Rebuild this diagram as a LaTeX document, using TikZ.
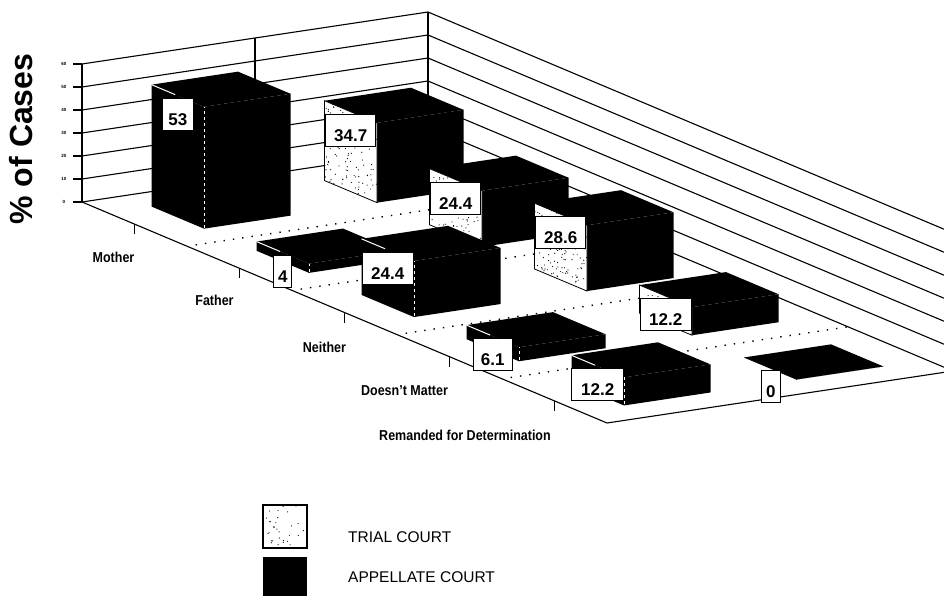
\documentclass[tikz,border=0pt]{standalone}
\usepackage{fontspec}
\setmainfont{Liberation Sans}
\usepackage{graphicx}
\usetikzlibrary{calc}
\begin{document}
\begin{tikzpicture}[x=1pt,y=1pt,
  grid/.style={line width=1.1pt,black},
  floordots/.style={line width=1.4pt,dash pattern=on 1.4pt off 8pt,black},
  vlabel/.style={draw=black,line width=1pt,fill=white,font=\fontsize{17}{17}\selectfont\bfseries,
    minimum height=32pt,inner xsep=2pt,inner ysep=3pt,text height=24pt,text depth=2pt},
  catlab/.style={font=\fontsize{12.5}{13}\selectfont\bfseries,inner sep=0pt},
  ticklab/.style={font=\fontsize{4.5}{5}\selectfont\bfseries,inner sep=0pt},
  legtext/.style={font=\fontsize{15.5}{16}\selectfont,anchor=west,inner sep=0pt}]
\useasboundingbox (0,0) rectangle (944,-595);
\clip (0,0) rectangle (944,-595);
\fill[white] (0,0) rectangle (944,-595);
\pgfmathsetseed{7}
% y axis title
\node[rotate=90,font=\fontsize{32}{32}\selectfont\bfseries,inner sep=0pt] (ytitle) at (21.5,-139) {\% of Cases};
% y tick labels and tick marks
\foreach \L in {0,10,...,60} {
  \node[ticklab] (tl\L) at (64,{-202+2.3*\L}) {\L};
  \draw[grid] (73,{-202+2.3*\L}) -- (82,{-202+2.3*\L});
}
\begin{scope}[shift={(82,-202)},x={(105pt,-44.2pt)},y={(0pt,2.3pt)},z={(173pt,26pt)}]
  % left wall (c=0) gridlines and verticals, back wall gridlines
  \foreach \L in {0,10,...,60} {
    \draw[grid] (0,\L,0) -- (0,\L,2) -- (5,\L,2);
  }
  \foreach \s in {0,1,2} { \draw[grid] (0,0,\s) -- (0,60,\s); }
  % floor
  \draw[grid] (0,0,0) -- (5,0,0) -- (5,0,2);
  \foreach \k in {1,2,3,4} { \draw[floordots] (\k,0,0.05) -- (\k,0,2); }
  \foreach \k in {0,1,2,3,4} { \draw[grid] (\k+0.5,0,0) -- ++(0pt,-10pt); }
  % bars: category / series / value
  \foreach \k/\j/\v in {0/1/34.7,0/0/53,1/1/24.4,1/0/4,2/1/28.6,2/0/24.4,3/1/12.2,3/0/6.1,4/1/0,4/0/12.2} {
    \pgfmathsetmacro\ca{\k+0.25}
    \pgfmathsetmacro\cb{\k+0.75}
    \pgfmathsetmacro\sa{\j+0.25}
    \pgfmathsetmacro\sb{\j+0.75}
    \fill[black] (\cb,0,\sa) -- (\cb,0,\sb) -- (\cb,\v,\sb) -- (\cb,\v,\sa) -- cycle;
    \fill[black] (\ca,\v,\sa) -- (\cb,\v,\sa) -- (\cb,\v,\sb) -- (\ca,\v,\sb) -- cycle;
    \ifnum\j=1
      \fill[white] (\ca,0,\sa) -- (\cb,0,\sa) -- (\cb,\v,\sa) -- (\ca,\v,\sa) -- cycle;
      \pgfmathtruncatemacro\nd{\v*3.5+1}
      \begin{scope}
        \clip (\ca,0,\sa) -- (\cb,0,\sa) -- (\cb,\v,\sa) -- (\ca,\v,\sa) -- cycle;
        \foreach \i in {1,...,\nd} {
          \pgfmathsetmacro\rx{\ca+0.5*rnd}
          \pgfmathsetmacro\ry{\v*rnd}
          \fill[black] (\rx,\ry,\sa) circle (0.6pt);
        }
      \end{scope}
      \draw[black,line width=0.8pt] (\ca,0,\sa) -- (\cb,0,\sa) -- (\cb,\v,\sa) -- (\ca,\v,\sa) -- cycle;
    \else
      \fill[black] (\ca,0,\sa) -- (\cb,0,\sa) -- (\cb,\v,\sa) -- (\ca,\v,\sa) -- cycle;
      \draw[white,line width=1pt] (\ca,\v,\sa) -- ($(\ca,\v,\sa)!0.45!(\cb,\v,\sa)$);
      \draw[white,line width=0.7pt,dash pattern=on 3pt off 3pt] (\cb,0.5,\sa) -- (\cb,\v,\sa);
    \fi
  }
  % value labels
  \foreach \k/\j/\v/\w [count=\n] in {0/1/34.7/50,0/0/53/31,1/1/24.4/50,1/0/4/18,2/1/28.6/50,2/0/24.4/51,3/1/12.2/51,3/0/6.1/39,4/1/0/19,4/0/12.2/52} {
    \pgfmathsetmacro\cm{\k+0.5}
    \pgfmathsetmacro\sa{\j+0.25}
    \node[vlabel,minimum width=\w pt,yshift=-18.5pt] (val\n) at (\cm,\v,\sa) {\v};
  }
\end{scope}
% category labels
\node[catlab] (mother) at (113.5,-257) {\scalebox{1}[1.15]{Mother}};
\node[catlab] (father) at (214.5,-300) {\scalebox{1}[1.15]{Father}};
\node[catlab] (neither) at (324.5,-347) {\scalebox{1}[1.15]{Neither}};
\node[catlab] (doesnt) at (404.5,-391) {\scalebox{1}[1.15]{Doesn't Matter}};
\node[catlab] (remanded) at (465,-435) {\scalebox{1}[1.15]{Remanded for Determination}};
% legend
\fill[white] (263,-505) rectangle (307,-548);
\begin{scope}
  \clip (263,-505) rectangle (307,-548);
  \foreach \i in {1,...,35} {
    \pgfmathsetmacro\rx{263+44*rnd}
    \pgfmathsetmacro\ry{-505-43*rnd}
    \fill[black] (\rx,\ry) circle (0.6pt);
  }
\end{scope}
\draw[black,line width=1.2pt] (263,-505) rectangle (307,-548);
\fill[black] (263,-557) rectangle (307,-600);
\node[legtext] (ltrial) at (348,-537) {TRIAL COURT};
\node[legtext] (lapp) at (348,-577) {APPELLATE COURT};
\end{tikzpicture}
\end{document}
